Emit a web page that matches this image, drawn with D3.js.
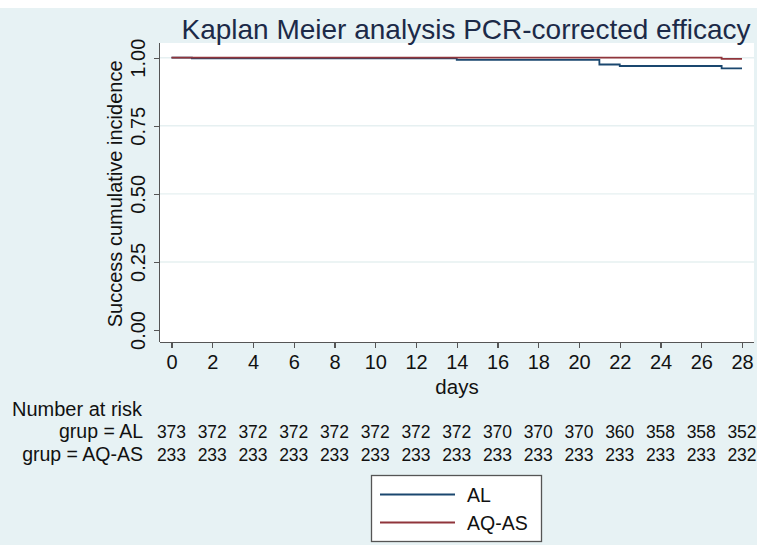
<!DOCTYPE html>
<html>
<head>
<meta charset="utf-8">
<script src="https://cdn.jsdelivr.net/npm/d3@7"></script>
<style>
  html, body { margin: 0; padding: 0; background: #ffffff; }
  svg { display: block; font-family: "Liberation Sans", Arial, Helvetica, sans-serif; }
</style>
</head>
<body>
<svg id="chart" width="757" height="545"></svg>
<script>
// ---- data ----
const title = "Kaplan Meier analysis PCR-corrected efficacy";
const xTicks = [0, 2, 4, 6, 8, 10, 12, 14, 16, 18, 20, 22, 24, 26, 28];
const yTicks = [0, 0.25, 0.5, 0.75, 1];
const groups = ["AL", "AQ-AS"];
const alTimes = [0, 1, 14, 21, 22, 27, 28];
const alSurv  = [1, 0.9973, 0.992, 0.975, 0.9695, 0.961, 0.961];
const aqTimes = [0, 27, 28];
const aqSurv  = [1, 0.9957, 0.9957];
const riskAL   = [373, 372, 372, 372, 372, 372, 372, 372, 370, 370, 370, 360, 358, 358, 352];
const riskAQAS = [233, 233, 233, 233, 233, 233, 233, 233, 233, 233, 233, 233, 233, 233, 232];
const colors = ["#1a476f", "#90353b"];

// ---- layout ----
const svg = d3.select("#chart");
const W = 757, H = 545;
const plot = { left: 160, right: 754, top: 43, bottom: 342 };

svg.append("rect").attr("x", 0).attr("y", 0).attr("width", W).attr("height", H).attr("fill", "#e7f2f4");
svg.append("rect").attr("x", 0).attr("y", 0).attr("width", W).attr("height", 8).attr("fill", "#ffffff");

const x = d3.scaleLinear().domain([0, 28]).range([171.5, 742]);
const y = d3.scaleLinear().domain([0, 1]).range([330, 57.7]);

// plot region
svg.append("rect")
  .attr("x", plot.left).attr("y", plot.top)
  .attr("width", plot.right - plot.left).attr("height", plot.bottom - plot.top)
  .attr("fill", "#ffffff");

// gridlines
svg.append("g").selectAll("line").data(yTicks.filter(d => d > 0)).join("line")
  .attr("x1", plot.left).attr("x2", plot.right)
  .attr("y1", d => y(d)).attr("y2", d => y(d))
  .attr("stroke", "#e6f0f1").attr("stroke-width", 1.4);

// title
svg.append("text").attr("x", 466).attr("y", 39)
  .attr("text-anchor", "middle").attr("font-size", 28).attr("fill", "#1c2a48")
  .text(title);

// survival step lines
const line = d3.line().curve(d3.curveStepAfter).x(d => x(d[0])).y(d => y(d[1]));
const series = [
  d3.zip(alTimes, alSurv),
  d3.zip(aqTimes, aqSurv)
];
svg.append("g").selectAll("path").data(series).join("path")
  .attr("d", d => line(d))
  .attr("fill", "none")
  .attr("stroke", (d, i) => colors[i])
  .attr("stroke-width", 1.8);

// axes
const xAxis = d3.axisBottom(x).tickValues(xTicks).tickSize(6).tickPadding(7).tickFormat(d3.format("d"));
const gx = svg.append("g").attr("transform", `translate(0,${plot.bottom})`).call(xAxis);
gx.select(".domain").attr("d", `M${plot.left},0.5H${plot.right}`).attr("stroke", "#555").attr("stroke-width", 1.3);
gx.selectAll(".tick line").attr("stroke", "#555").attr("stroke-width", 1.3);
gx.selectAll(".tick text").attr("font-size", 20).attr("fill", "#111").attr("font-family", null);

const yAxis = d3.axisLeft(y).tickValues(yTicks).tickSize(6).tickPadding(0).tickFormat(d3.format(".2f"));
const gy = svg.append("g").attr("transform", `translate(${plot.left},0)`).call(yAxis);
gy.select(".domain").attr("d", `M-0.5,${plot.top}V${plot.bottom}`).attr("stroke", "#555").attr("stroke-width", 1.3);
gy.selectAll(".tick line").attr("stroke", "#555").attr("stroke-width", 1.3);
gy.selectAll(".tick text")
  .attr("font-size", 20).attr("fill", "#111").attr("font-family", null)
  .attr("x", null).attr("dy", null)
  .attr("text-anchor", "middle")
  .attr("transform", "translate(-22,0) rotate(-90)")
  .attr("dy", "0.35em");
svg.selectAll(".domain, .tick line").attr("shape-rendering", "crispEdges");

// axis titles
svg.append("text").attr("x", 457).attr("y", 394).attr("text-anchor", "middle")
  .attr("font-size", 20.5).attr("fill", "#111").text("days");
svg.append("text").attr("transform", `translate(122,${(y(0) + y(1)) / 2}) rotate(-90)`)
  .attr("text-anchor", "middle").attr("font-size", 20).attr("fill", "#111")
  .text("Success cumulative incidence");

// number at risk table
svg.append("text").attr("x", 12).attr("y", 416).attr("font-size", 20).attr("fill", "#111").text("Number at risk");
const rows = [["grup = AL", riskAL, 438], ["grup = AQ-AS", riskAQAS, 461]];
rows.forEach(([lab, vals, yy]) => {
  svg.append("text").attr("x", 143).attr("y", yy).attr("text-anchor", "end")
    .attr("font-size", 19.5).attr("fill", "#111").text(lab);
  svg.append("g").selectAll("text").data(vals).join("text")
    .attr("x", (d, i) => x(xTicks[i])).attr("y", yy)
    .attr("text-anchor", "middle").attr("font-size", 17.5).attr("fill", "#111")
    .text(d => d);
});

// legend
const lg = svg.append("g");
lg.append("rect").attr("x", 371.5).attr("y", 475.5).attr("width", 170).attr("height", 66)
  .attr("fill", "#ffffff").attr("stroke", "#555").attr("stroke-width", 1.3);
groups.forEach((g, i) => {
  const ly = 494.5 + i * 28;
  lg.append("line").attr("x1", 380).attr("x2", 455).attr("y1", ly).attr("y2", ly)
    .attr("stroke", colors[i]).attr("stroke-width", 1.8);
  lg.append("text").attr("x", 467).attr("y", ly + 7).attr("font-size", 19.5).attr("fill", "#111").text(g);
});
</script>
</body>
</html>
